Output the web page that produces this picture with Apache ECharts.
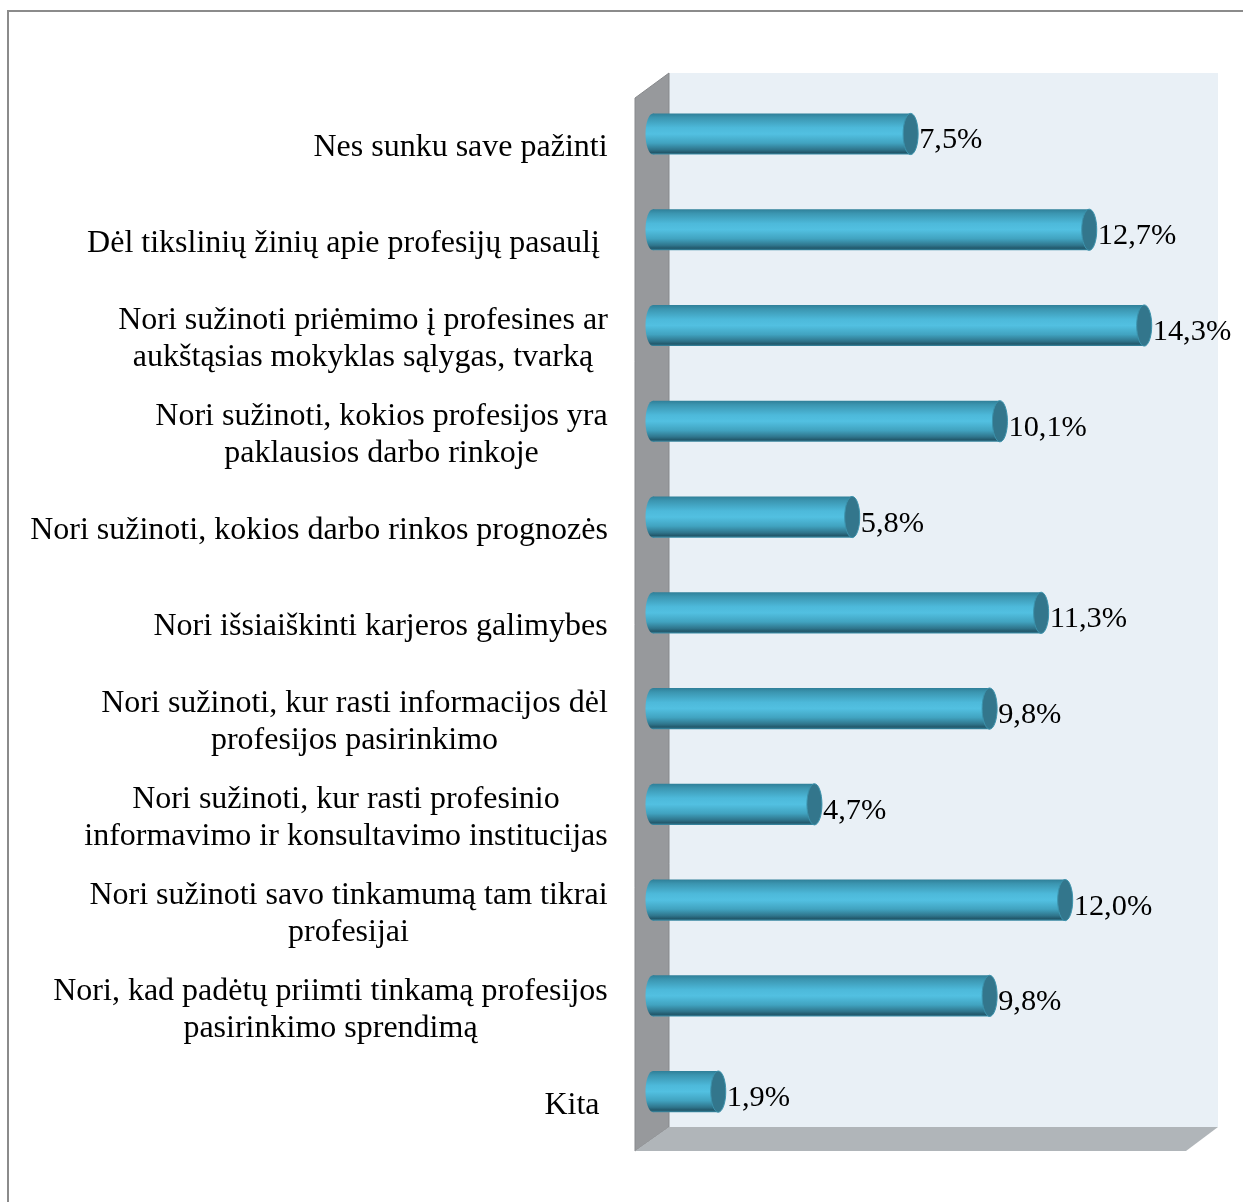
<!DOCTYPE html>
<html>
<head>
<meta charset="utf-8">
<style>html,body{margin:0;padding:0;background:#fff}#c{width:1243px;height:1202px}</style>
<script src="https://cdn.jsdelivr.net/npm/echarts@6/dist/echarts.min.js"></script>
</head>
<body>
<div id="c"></div>
<script>
const categories = [
  'Nes sunku save pažinti',
  'Dėl tikslinių žinių apie profesijų pasaulį ',
  'Nori sužinoti priėmimo į profesines ar\naukštąsias mokyklas sąlygas, tvarką',
  'Nori sužinoti, kokios profesijos yra\npaklausios darbo rinkoje',
  'Nori sužinoti, kokios darbo rinkos prognozės',
  'Nori išsiaiškinti karjeros galimybes',
  'Nori sužinoti, kur rasti informacijos dėl\nprofesijos pasirinkimo',
  'Nori sužinoti, kur rasti profesinio\ninformavimo ir konsultavimo institucijas',
  'Nori sužinoti savo tinkamumą tam tikrai\nprofesijai',
  'Nori, kad padėtų priimti tinkamą profesijos\npasirinkimo sprendimą',
  'Kita '
];
const values = [7.5, 12.7, 14.3, 10.1, 5.8, 11.3, 9.8, 4.7, 12.0, 9.8, 1.9];
const valueLabels = ['7,5%', '12,7%', '14,3%', '10,1%', '5,8%', '11,3%', '9,8%', '4,7%', '12,0%', '9,8%', '1,9%'];

const FONT_FAMILY = '"Liberation Serif", "Times New Roman", serif';
const CAT_SIZE = 32;
const VAL_FONT = '30.4px ' + FONT_FAMILY;

// Measure each label so its lines can be centred in a right-anchored block
const ctx = document.createElement('canvas').getContext('2d');
ctx.font = CAT_SIZE + 'px ' + FONT_FAMILY;
const rich = {};
categories.forEach((c, i) => {
  const w = Math.max(...c.split('\n').map(l => ctx.measureText(l).width));
  rich['c' + i] = { width: Math.ceil(w), align: 'center', fontFamily: FONT_FAMILY, fontSize: CAT_SIZE, lineHeight: 37, color: '#000' };
});

const chart = echarts.init(document.getElementById('c'), null, { renderer: 'canvas' });

// Scene frame
const back = { l: 669, r: 1218, t: 73, b: 1127 };
const front = { l: 635, r: 1186, t: 98, b: 1151 };

chart.setOption({
  animation: false,
  backgroundColor: '#fff',
  grid: { left: 653, right: 40.4, top: 86.1, bottom: 62.5, containLabel: false },
  xAxis: { type: 'value', min: 0, max: 16, show: false },
  yAxis: {
    type: 'category',
    inverse: true,
    data: categories,
    axisLine: { show: false },
    axisTick: { show: false },
    splitLine: { show: false },
    axisLabel: {
      margin: 45,
      interval: 0,
      align: 'right',
      verticalAlign: 'middle',
      padding: [28, 0, 0, 0],
      rich: rich,
      formatter: (v, i) => v.split('\n').map(l => '{c' + i + '|' + l + '}').join('\n')
    }
  },
  graphic: [
    { type: 'polyline', z: 0, silent: true, shape: { points: [[8, 1202], [8, 11], [1243, 11]] }, style: { stroke: '#8b8b8b', lineWidth: 2, fill: null } },
    { type: 'rect', z: 0, silent: true, shape: { x: back.l, y: back.t, width: back.r - back.l, height: back.b - back.t }, style: { fill: '#e9f0f6' } },
    { type: 'polygon', z: 1, silent: true, shape: { points: [[front.l, front.t], [back.l, back.t], [back.l, back.b], [front.l, front.b]] },
      style: { fill: '#97999c', stroke: '#87898c', lineWidth: 1 } },
    { type: 'polygon', z: 1, silent: true, shape: { points: [[back.l, back.b], [back.r, back.b], [front.r, front.b], [front.l, front.b]] },
      style: { fill: '#b0b5b9' } }
  ],
  series: [{
    type: 'custom',
    coordinateSystem: 'cartesian2d',
    clip: false,
    z: 5,
    data: values.map((v, i) => [v, i]),
    encode: { x: 0, y: 1 },
    renderItem: (params, api) => {
      const v = api.value(0), idx = api.value(1);
      const end = api.coord([v, idx]);
      const start = api.coord([0, idx]);
      const h = api.size([0, 1])[1] * 0.43;
      const rx = 7.5, ry = h / 2;
      const grad = () => new echarts.graphic.LinearGradient(0, 0, 0, 1, [
        { offset: 0, color: '#2f7f98' },
        { offset: 0.1, color: '#3b95b0' },
        { offset: 0.35, color: '#4db9da' },
        { offset: 0.5, color: '#52c0e1' },
        { offset: 0.72, color: '#41a3c0' },
        { offset: 0.88, color: '#2f758c' },
        { offset: 0.95, color: '#22586b' },
        { offset: 1, color: '#3a8ca6' }
      ]);
      return {
        type: 'group',
        children: [
          { type: 'ellipse', shape: { cx: start[0], cy: start[1], rx: rx, ry: ry }, style: { fill: grad() } },
          { type: 'rect', shape: { x: start[0], y: start[1] - ry, width: end[0] - start[0], height: h }, style: { fill: grad() } },
          { type: 'ellipse', shape: { cx: end[0], cy: end[1], rx: rx, ry: ry }, style: { fill: '#33768c', stroke: '#3c93ad', lineWidth: 1 } },
          { type: 'text', style: { text: valueLabels[idx], x: end[0] + rx + 1, y: end[1] + 6.5, font: VAL_FONT, fill: '#000', textAlign: 'left', textVerticalAlign: 'middle' } }
        ]
      };
    }
  }]
});
</script>
</body>
</html>
